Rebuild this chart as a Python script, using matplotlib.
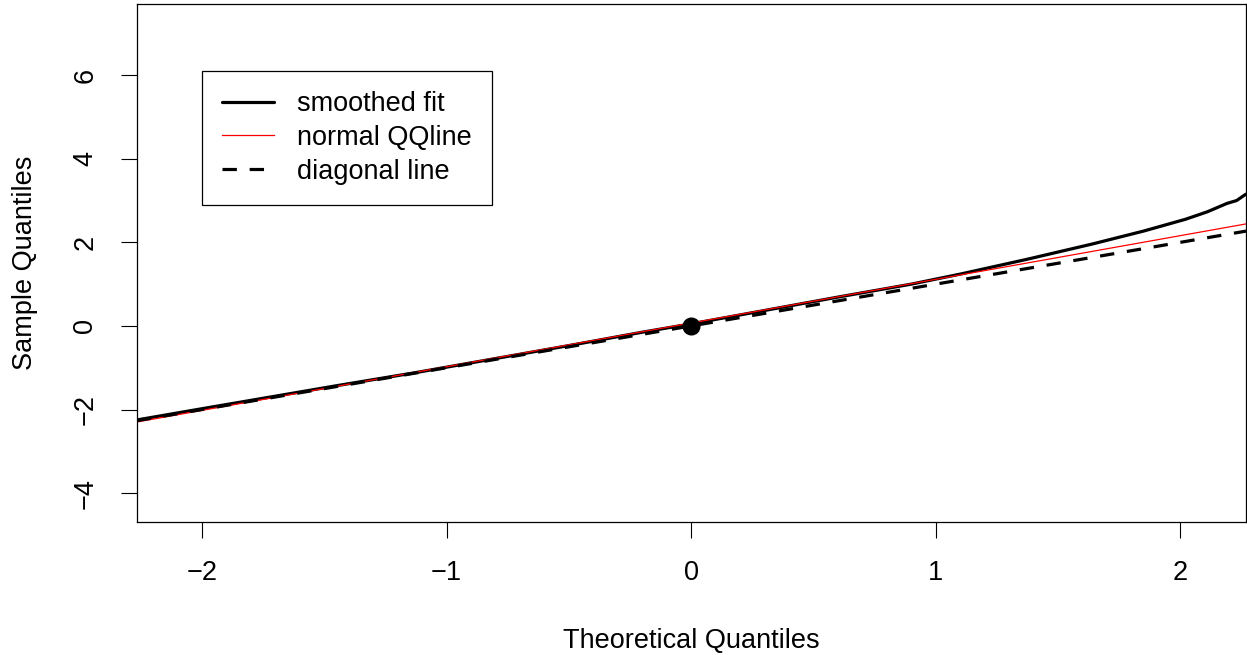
import numpy as np
import matplotlib
matplotlib.use('Agg')
import matplotlib.pyplot as plt

plt.rcParams['font.family'] = ['Liberation Sans', 'DejaVu Sans']

# smoothed fit of the sample quantiles
theo_q = [-2.267, -2.0, -1.7, -1.45, -1.12, -0.8, -0.5, -0.2, 0.0, 0.3,
          0.6, 0.9, 1.1, 1.37, 1.64, 1.85, 2.02, 2.11, 2.19, 2.23, 2.267]
samp_q = [-2.25, -1.98, -1.68, -1.43, -1.11, -0.78, -0.47, -0.15, 0.05, 0.37,
          0.69, 1.0, 1.24, 1.59, 1.96, 2.27, 2.55, 2.73, 2.93, 3.0, 3.15]

# normal QQ line
qq_intercept = 0.07
qq_slope = 1.045

# marked point
center_pt = (0.0, 0.0)

xticks = [-2, -1, 0, 1, 2]
yticks = [-4, -2, 0, 2, 4, 6]
xlim = (-2.267, 2.268)
ylim = (-4.69, 7.70)

fs = 19.5

fig = plt.figure(figsize=(12.47, 6.55), dpi=100)
ax = fig.add_axes([0.1095, 0.203, 0.8897, 0.7909])

l1, = ax.plot(theo_q, samp_q, color='black', lw=2.3, solid_capstyle='round',
              label='smoothed fit')
l2 = ax.axline((0, qq_intercept), slope=qq_slope, color='red', lw=0.9,
               label='normal QQline')
l3 = ax.axline((0, 0), slope=1, color='black', lw=2.3, linestyle=(0, (4.5, 4)),
               label='diagonal line')
ax.plot([center_pt[0]], [center_pt[1]], 'o', color='black', ms=12, zorder=5)

ax.set_xlim(*xlim)
ax.set_ylim(*ylim)
ax.set_xticks(xticks)
ax.set_yticks(yticks)
ax.tick_params(axis='both', length=11.5, width=0.8, labelsize=fs, pad=16)
for lab in ax.get_yticklabels():
    lab.set_rotation(90)
    lab.set_va('center')
for s in ax.spines.values():
    s.set_linewidth(0.9)

ax.set_xlabel('Theoretical Quantiles', fontsize=fs, labelpad=30)
ax.set_ylabel('Sample Quantiles', fontsize=fs, labelpad=25)

leg = ax.legend(handles=[l1, l2, l3], loc='upper left',
                bbox_to_anchor=(0.059, 0.8707), fontsize=fs, frameon=True,
                fancybox=False, framealpha=1, edgecolor='black',
                handlelength=1.9, handletextpad=0.88, borderpad=0.74,
                labelspacing=0.29, borderaxespad=0)
leg.get_frame().set_linewidth(0.9)

fig.savefig('out.png', dpi=100)
